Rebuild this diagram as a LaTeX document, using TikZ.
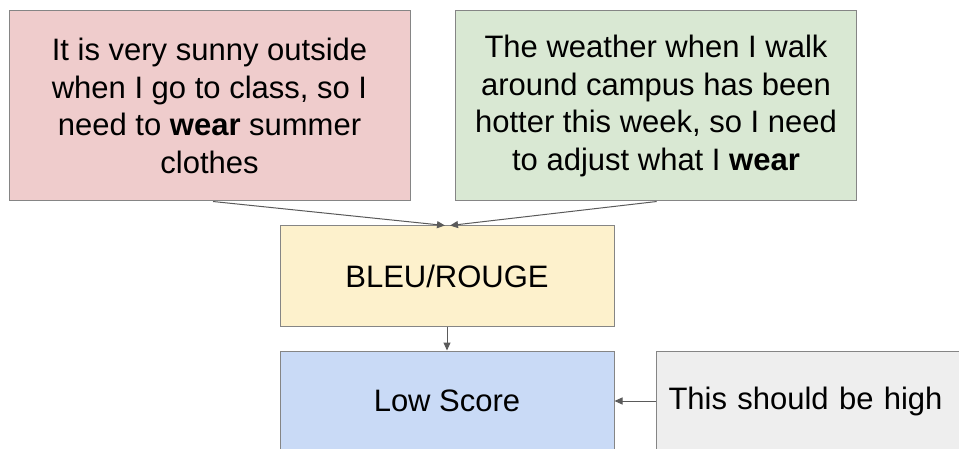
\documentclass[tikz,border=0pt]{standalone}
\usepackage{fontspec}
\setmainfont{Liberation Sans}
\usetikzlibrary{arrows.meta,calc}

\definecolor{redfill}{HTML}{EFCCCC}
\definecolor{greenfill}{HTML}{D9E8D3}
\definecolor{yellowfill}{HTML}{FDF1CC}
\definecolor{bluefill}{HTML}{C9DAF6}
\definecolor{grayfill}{HTML}{EEEEEE}
\definecolor{edgegray}{HTML}{858585}
\definecolor{arrowgray}{HTML}{5A5A5A}

\tikzset{
  box/.style={draw=edgegray, line width=1pt, inner sep=0pt, align=center,
    font=\fontsize{31}{37.8}\selectfont},
  arr/.style={draw=arrowgray, line width=1pt,
    -{Triangle[length=8pt,width=7pt]}}
}

\begin{document}
\begin{tikzpicture}[x=1pt, y=-1pt]
\useasboundingbox (0,0) rectangle (959,449);
\clip (0,0) rectangle (959,449);

% two input sentences
\node[box, fill=redfill, minimum width=401pt, minimum height=190pt] (red) at (209.5,106)
  {It is very sunny outside\\when I go to class, so I\\need to \textbf{wear} summer\\clothes};
\node[box, fill=greenfill, minimum width=401pt, minimum height=190pt] (green) at (656,106)
  {The weather when I walk\\around campus has been\\hotter this week, so I need\\to adjust what I \textbf{wear}};

% metric and its result
\node[box, fill=yellowfill, minimum width=334pt, minimum height=100pt] (metric) at (447,276) {BLEU/ROUGE};
\node[box, fill=bluefill, minimum width=334pt, minimum height=100pt] (score) at (447,401) {Low Score};

% comment box on the right
\node[box, fill=grayfill, anchor=west, minimum height=100pt, text width=310pt,
  inner xsep=12pt, align=left] (note) at (656,401) {This should be high};

% connectors
\draw[arr] ($(red.south)+(3.5,0)$) -- ($(metric.north)+(-2,0)$);
\draw[arr] ($(green.south)+(0.7,0)$) -- ($(metric.north)+(3,0)$);
\draw[arr] (metric.south) -- (score.north);
\draw[arr] (note.west) -- (score.east);
\end{tikzpicture}
\end{document}
